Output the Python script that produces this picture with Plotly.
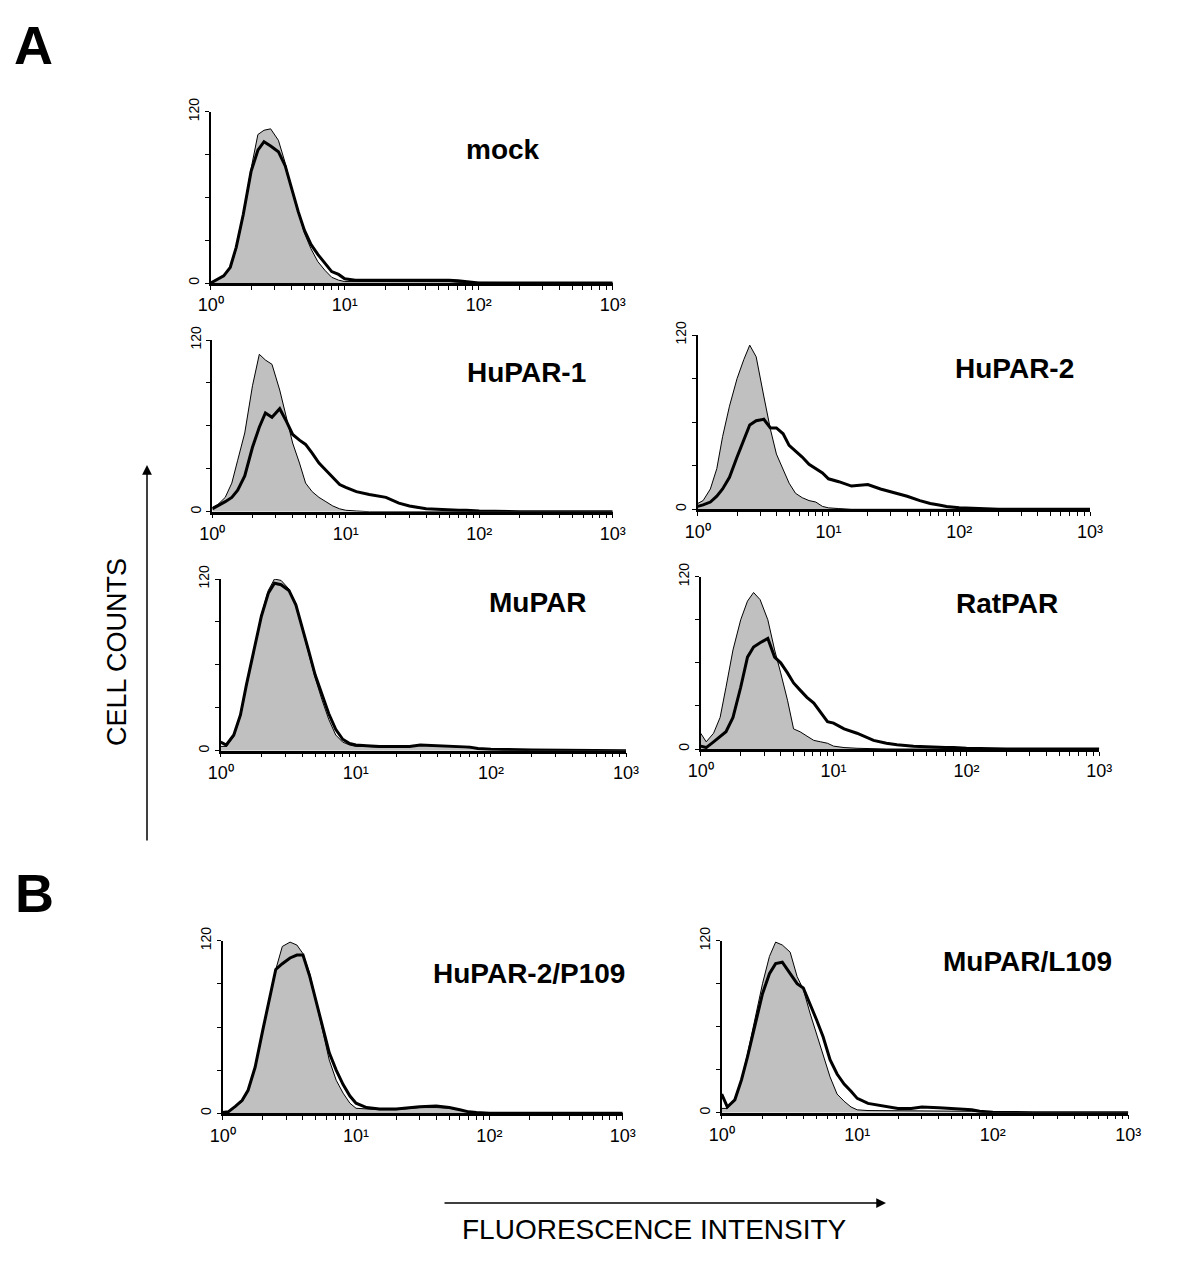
import plotly.graph_objects as go

W, H = 1200, 1263

# Fluorescence intensity grid (x values, log axis 10^0..10^3)
intensity = [1.0, 1.1, 1.25, 1.4, 1.55, 1.75, 2.0, 2.25, 2.5, 2.8, 3.2, 3.6, 4.0, 4.5, 5.0, 5.6,
             6.3, 7.1, 8.0, 9.0, 10, 12, 15, 20, 25, 30, 40, 50, 60, 70, 80, 100, 200, 1000]

panel_names = ["mock", "HuPAR-1", "HuPAR-2", "MuPAR", "RatPAR", "HuPAR-2/P109", "MuPAR/L109"]

# Grey filled histograms (control) and black line histograms (antibody), cell counts
mock_ctrl = [0, 2, 5, 10, 24, 48, 80, 104, 107, 108, 100, 84, 66, 50, 35, 24, 15, 9, 4, 2,
             1, 1, 1, 1, 1, 1, 1.5, 1.5, 1, 0.5, 0.5, 0, 0, 0]
mock_test = [0, 2, 5, 11, 25, 48, 78, 93, 99, 96, 92, 82, 66, 50, 37, 27, 20, 14, 8, 6,
             3, 2, 2, 2, 2, 2, 2.5, 2.5, 2, 1.5, 1, 0, 0, 0]

hupar1_ctrl = [3, 5, 10, 20, 36, 55, 88, 110, 106, 103, 85, 65, 48, 34, 20, 14, 10, 7, 4, 2,
               1, 0.5, 0, 0, 0, 0, 0, 0, 0, 0, 0, 0, 0, 0]
hupar1_test = [2, 4, 7, 10, 15, 25, 45, 59, 69, 66, 72, 63, 54, 50, 47, 41, 34, 29, 24, 19,
               17, 14, 12, 10, 6, 4, 2, 1.5, 1, 1, 1, 0.5, 0, 0]

hupar2_ctrl = [4, 6, 14, 28, 50, 71, 90, 103, 113, 105, 78, 55, 38, 27, 18, 11, 8, 6, 5, 2,
               1, 0.5, 0, 0, 0, 0, 0, 0, 0, 0, 0, 0, 0, 0]
hupar2_test = [2, 3, 5, 9, 14, 22, 36, 48, 58, 61, 62, 56, 56, 52, 44, 40, 36, 31, 28, 25,
               21, 19, 16, 17, 14, 12, 9, 6, 4, 3, 2, 1, 0, 0]

mupar_ctrl = [3, 3, 10, 24, 45, 70, 95, 112, 120, 119, 113, 102, 86, 67, 51, 36, 22, 11, 6, 4,
              3, 3, 2.5, 2.5, 3, 4, 3, 3, 2.5, 2, 1.5, 1, 0, 0]
mupar_test = [6, 4, 11, 25, 46, 70, 94, 110, 117, 116, 112, 102, 87, 69, 53, 39, 26, 15, 8, 5,
              4, 3.5, 3, 3, 3, 4, 3.5, 3, 3, 2.5, 1.5, 1, 0.5, 0]

ratpar_ctrl = [11, 5, 11, 22, 43, 69, 90, 103, 109, 104, 90, 69, 53, 34, 14, 12, 9, 6, 5, 4,
               2, 1, 0.5, 0, 0, 0, 0, 0, 0, 0, 0, 0, 0, 0]
ratpar_test = [2, 1, 5, 9, 12, 22, 43, 64, 71, 74, 77, 64, 60, 53, 46, 41, 36, 32, 25, 19,
               18, 14, 11, 6, 4, 3, 2, 1.5, 1, 1, 1, 0.5, 0, 0]

p109_ctrl = [0.5, 0.7, 5, 8, 16, 32, 58, 81, 100, 116, 119, 117, 111, 97, 79, 58, 37, 23, 14, 7,
             3.5, 3, 2.5, 2.5, 3.5, 4, 4, 3.5, 2.5, 1, 0.5, 0, 0, 0]
p109_test = [0.5, 1, 5, 9, 16, 32, 58, 80, 100, 104, 108, 110, 110, 95, 78, 60, 42, 30, 20, 12,
             7, 4, 3, 3, 4, 4.5, 5, 4, 2.5, 1, 0.5, 0, 0, 0]

l109_ctrl = [3, 3, 9, 23, 41, 65, 90, 109, 119, 117, 112, 95, 86, 69, 55, 39, 25, 13, 8, 4,
             2, 1.5, 1.5, 1.5, 1.5, 1.5, 1.5, 1, 1, 1, 0.5, 0, 0, 0]
l109_test = [13, 4, 9, 23, 39, 60, 83, 97, 104, 105, 97, 90, 87, 76, 65, 53, 37, 27, 20, 15,
             10, 6.5, 5, 3, 3, 4, 3.5, 3, 2.5, 2, 1, 0.3, 0, 0]

ctrl_series = [mock_ctrl, hupar1_ctrl, hupar2_ctrl, mupar_ctrl, ratpar_ctrl, p109_ctrl, l109_ctrl]
test_series = [mock_test, hupar1_test, hupar2_test, mupar_test, ratpar_test, p109_test, l109_test]

major_ticks = [1, 10, 100, 1000]
major_labels = ["10\u2070", "10\u00b9", "10\u00b2", "10\u00b3"]
minor_ticks = [m * 10 ** d for d in range(3) for m in range(2, 10)]
y_ticks = [0, 120]
y_ticktext = ["0", "120"]
y_minor = [30, 60, 90]

# Panel geometry in pixels: (left, right, y0 pixel, y120 pixel), label centre
boxes = [
    (210.7, 612.7, 283.0, 111.7),
    (212.3, 612.7, 511.7, 340.0),
    (697.7, 1090.0, 509.3, 335.0),
    (220.7, 626.0, 750.7, 579.0),
    (700.7, 1099.3, 749.0, 576.7),
    (222.7, 622.7, 1113.3, 940.7),
    (721.7, 1128.3, 1112.7, 940.7),
]
label_pos = [(503, 150), (526, 372), (1014, 369), (537, 602), (1007, 603), (529, 973), (1027, 962)]


def px(x):
    return x / W


def py(y):
    return 1 - y / H


fig = go.Figure()

layout = {}
for i, (name, ctrl, test, box) in enumerate(zip(panel_names, ctrl_series, test_series, boxes)):
    k = "" if i == 0 else str(i + 1)
    xa, ya = "x" + k, "y" + k
    fig.add_trace(go.Scatter(x=intensity, y=ctrl, xaxis=xa, yaxis=ya, mode="lines",
                             line=dict(color="black", width=1), fill="tozeroy",
                             fillcolor="#c0c0c0", showlegend=False, hoverinfo="skip"))
    fig.add_trace(go.Scatter(x=intensity, y=test, xaxis=xa, yaxis=ya, mode="lines",
                             line=dict(color="black", width=3), showlegend=False, hoverinfo="skip"))
    l, r, y0, y1 = box
    layout["xaxis" + k] = dict(
        type="log", range=[0, 3], domain=[px(l), px(r)], anchor=ya, automargin=False,
        showline=True, linecolor="black", linewidth=2.5, showgrid=False, zeroline=False,
        tickmode="array", tickvals=major_ticks, ticktext=major_labels,
        ticks="outside", ticklen=4, tickwidth=1, tickcolor="black",
        minor=dict(tickmode="array", tickvals=minor_ticks, ticks="outside", ticklen=4,
                   tickwidth=1, tickcolor="black", showgrid=False),
        tickfont=dict(family="Arial", size=18, color="black"), fixedrange=True,
    )
    layout["yaxis" + k] = dict(
        range=[0, 120], domain=[py(y0), py(y1)], anchor=xa, automargin=False,
        showline=True, linecolor="black", linewidth=2, showgrid=False, zeroline=False,
        tickmode="array", tickvals=y_ticks, ticktext=y_ticktext, tickangle=-90,
        ticks="outside", ticklen=4, tickwidth=1, tickcolor="black",
        minor=dict(tickmode="array", tickvals=y_minor, ticks="outside", ticklen=4,
                   tickwidth=1, tickcolor="black", showgrid=False),
        tickfont=dict(family="Arial", size=14, color="black"), fixedrange=True,
    )

annotations = []
for name, (lx, ly) in zip(panel_names, label_pos):
    annotations.append(dict(text="<b>%s</b>" % name, x=px(lx), y=py(ly), xref="paper", yref="paper",
                            showarrow=False, xanchor="center", yanchor="middle",
                            font=dict(family="Arial", size=28, color="black")))

annotations.append(dict(text="<b>A</b>", x=px(33), y=py(45), xref="paper", yref="paper",
                        showarrow=False, xanchor="center", yanchor="middle",
                        font=dict(family="Arial", size=54, color="black")))
annotations.append(dict(text="<b>B</b>", x=px(34), y=py(893), xref="paper", yref="paper",
                        showarrow=False, xanchor="center", yanchor="middle",
                        font=dict(family="Arial", size=54, color="black")))
annotations.append(dict(text="CELL COUNTS", x=px(117), y=py(652), xref="paper", yref="paper",
                        showarrow=False, textangle=-90, xanchor="center", yanchor="middle",
                        font=dict(family="Arial", size=27, color="black")))
annotations.append(dict(text="FLUORESCENCE INTENSITY", x=px(655), y=py(1229), xref="paper", yref="paper",
                        showarrow=False, xanchor="center", yanchor="middle",
                        font=dict(family="Arial", size=28, color="black")))
# arrows
annotations.append(dict(text="", x=px(147), y=py(465), xref="paper", yref="paper",
                        showarrow=True, ax=0, ay=377, arrowhead=2, arrowsize=1.3,
                        arrowwidth=1.5, arrowcolor="black"))
annotations.append(dict(text="", x=px(886), y=py(1203), xref="paper", yref="paper",
                        showarrow=True, ax=-443, ay=0, arrowhead=2, arrowsize=1.3,
                        arrowwidth=1.5, arrowcolor="black"))

fig.update_layout(
    width=W, height=H, margin=dict(l=0, r=0, t=0, b=0, autoexpand=False),
    paper_bgcolor="white", plot_bgcolor="white",
    annotations=annotations, **layout,
)

fig.write_html("out.html", config={"displayModeBar": False},
               post_script="document.body.style.margin='0';document.body.style.padding='0';")
